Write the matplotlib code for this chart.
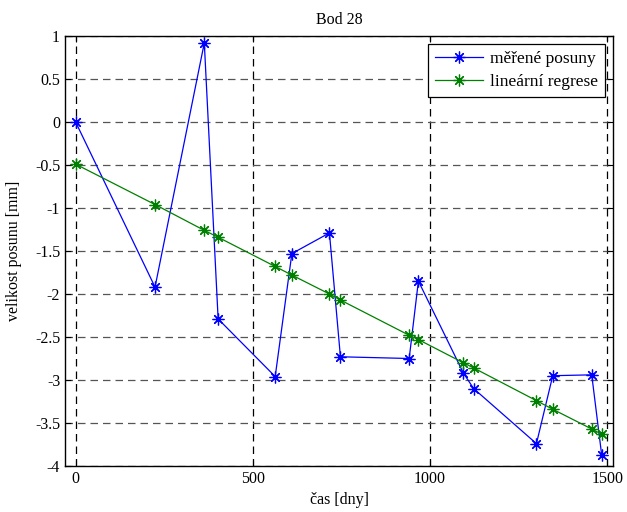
import matplotlib
matplotlib.use("Agg")
import matplotlib.pyplot as plt

days = [0, 224, 363, 402, 563, 610, 716, 747, 941, 967, 1094, 1123, 1300, 1346, 1456, 1484]
measured = [0.0, -1.92, 0.92, -2.29, -2.96, -1.53, -1.29, -2.73, -2.75, -1.85,
            -2.92, -3.10, -3.74, -2.95, -2.94, -3.87]
regression = [-0.49, -0.96, -1.26, -1.34, -1.68, -1.78, -2.00, -2.07, -2.48, -2.53,
              -2.80, -2.86, -3.24, -3.34, -3.57, -3.63]
xticks = [0, 500, 1000, 1500]
yticks = [1, 0.5, 0, -0.5, -1, -1.5, -2, -2.5, -3, -3.5, -4]
ytick_labels = ["1", "0.5", "0", "-0.5", "-1", "-1.5", "-2", "-2.5", "-3", "-3.5", "-4"]

plt.rcParams['font.family'] = ['Liberation Serif', 'DejaVu Serif']
plt.rcParams['font.size'] = 11.5

fig = plt.figure(figsize=(6.27, 5.12), dpi=100)
ax = fig.add_axes([65/627, 1 - 466/512, (613-65)/627, (466-36)/512])

ast = (8, 2, 0)
ax.plot(days, measured, color='#0000ff', lw=0.9, marker=ast, ms=8.5, mew=0.9,
        label='měřené posuny')
ax.plot(days, regression, color='#008000', lw=0.9, marker=ast, ms=8.5, mew=0.9,
        label='lineární regrese')

ax.set_xlim(-30, 1516)
ax.set_ylim(-4, 1)
ax.set_xticks(xticks)
ax.set_yticks(yticks)
ax.set_yticklabels(ytick_labels)

for x in xticks:
    ax.axvline(x, color='black', lw=0.9, ls=(0, (6, 4)), zorder=0)
for y in yticks:
    ax.axhline(y, color='#555555', lw=0.9, ls=(0, (6, 4)), zorder=0)

ax.tick_params(direction='in', top=True, right=True, length=4, width=0.8, labelsize=11.5)
for s in ax.spines.values():
    s.set_linewidth(1.0)

ax.set_title('Bod 28', fontsize=11.5, pad=9)
ax.set_xlabel('čas [dny]', fontsize=11.5, labelpad=4)
ax.set_ylabel('velikost posunu [mm]', fontsize=11.5, labelpad=9)

leg = ax.legend(loc='upper right', fontsize=12.5, fancybox=False, framealpha=1,
                edgecolor='black', borderaxespad=0.45, handlelength=2.8,
                handletextpad=0.4, borderpad=0.4, labelspacing=0.4)
leg.get_frame().set_linewidth(0.9)

fig.savefig('out.png', dpi=100)
